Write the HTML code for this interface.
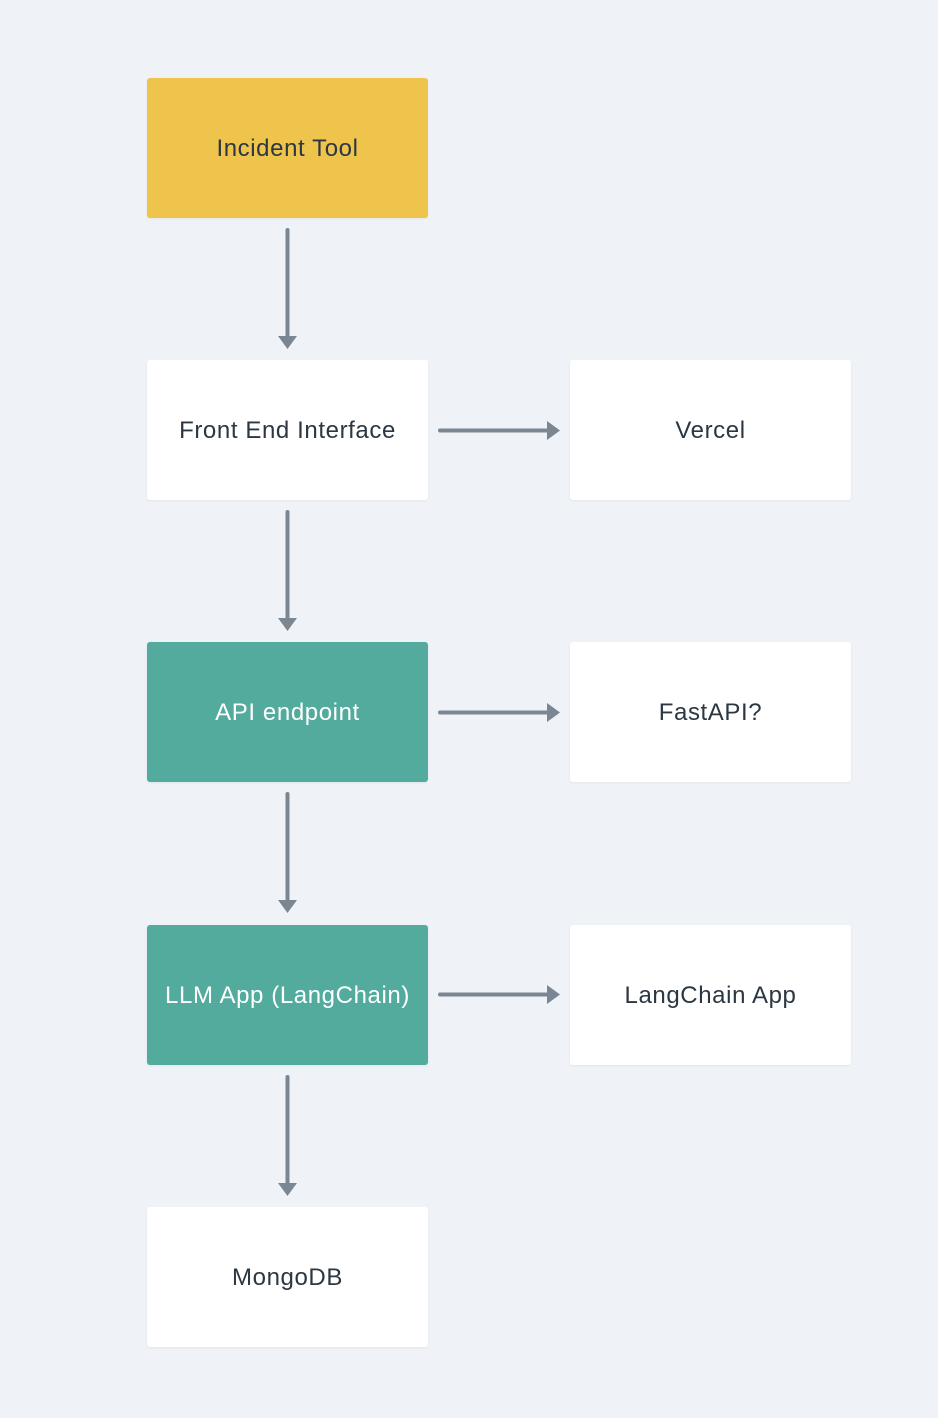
<!DOCTYPE html>
<html><head><style>
html,body{margin:0;padding:0;}
body{width:938px;height:1418px;background:#eff3f7;position:relative;overflow:hidden;font-family:"Liberation Sans",sans-serif;}
.b{position:absolute;width:281px;height:140px;border-radius:3px;background:#fff;display:flex;align-items:center;justify-content:center;font-size:24px;letter-spacing:0.6px;color:#2b3742;box-shadow:0 1px 2px rgba(0,0,0,0.06);padding-top:2px;box-sizing:border-box;}
.y{background:#efc44c;}
.t{background:#52ab9d;color:#fff;}
svg{position:absolute;left:0;top:0;}
</style></head><body>
<div class="b y" style="left:147px;top:78px">Incident Tool</div>
<div class="b" style="left:147px;top:360px">Front End Interface</div>
<div class="b" style="left:570px;top:360px">Vercel</div>
<div class="b t" style="left:147px;top:642px">API endpoint</div>
<div class="b" style="left:570px;top:642px">FastAPI?</div>
<div class="b t" style="left:147px;top:925px">LLM App (LangChain)</div>
<div class="b" style="left:570px;top:925px">LangChain App</div>
<div class="b" style="left:147px;top:1207px">MongoDB</div>
<svg width="938" height="1418">
<g stroke="#7b8693" stroke-width="4" stroke-linecap="round" fill="none">
<line x1="287.5" y1="230" x2="287.5" y2="338"/>
<line x1="287.5" y1="512" x2="287.5" y2="620"/>
<line x1="287.5" y1="794" x2="287.5" y2="902"/>
<line x1="287.5" y1="1077" x2="287.5" y2="1185"/>
<line x1="440" y1="430.5" x2="548" y2="430.5"/>
<line x1="440" y1="712.5" x2="548" y2="712.5"/>
<line x1="440" y1="994.5" x2="548" y2="994.5"/>
</g>
<g fill="#7b8693">
<polygon points="278,336 297,336 287.5,349"/>
<polygon points="278,618 297,618 287.5,631"/>
<polygon points="278,900 297,900 287.5,913"/>
<polygon points="278,1183 297,1183 287.5,1196"/>
<polygon points="547,421 547,440 560,430.5"/>
<polygon points="547,703 547,722 560,712.5"/>
<polygon points="547,985 547,1004 560,994.5"/>
</g>
</svg>
</body></html>
